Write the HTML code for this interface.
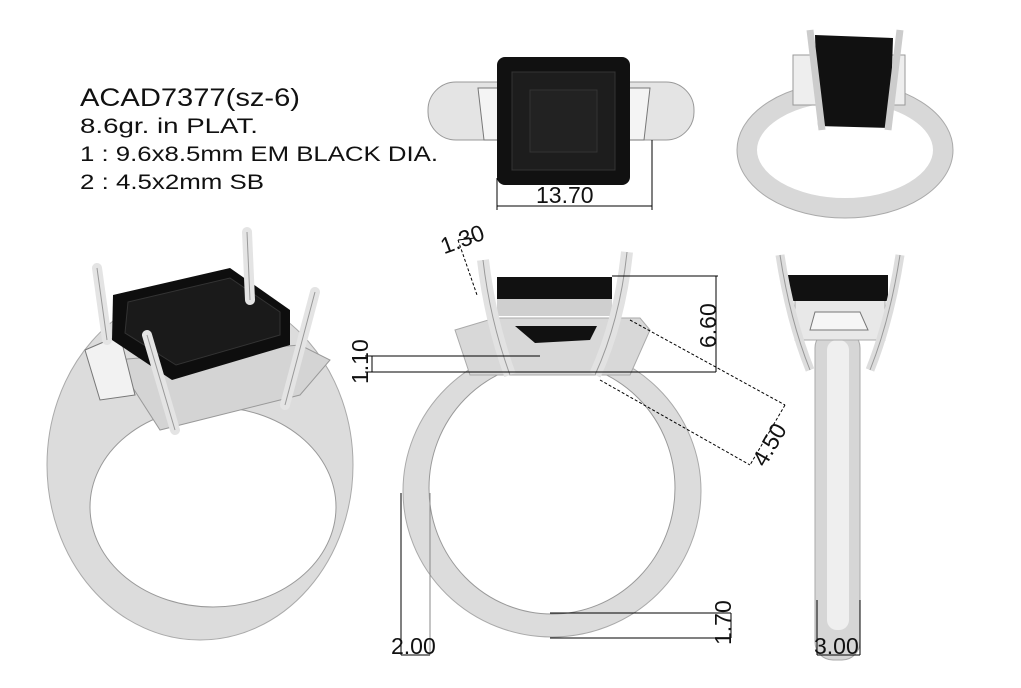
<!DOCTYPE html>
<html><head><style>
html,body{margin:0;padding:0;background:#fff;}
svg{display:block;}
text{font-family:"Liberation Sans",sans-serif;fill:#111;}
</style></head><body>
<svg width="1021" height="688" viewBox="0 0 1021 688" xmlns="http://www.w3.org/2000/svg">
<rect width="1021" height="688" fill="#fff"/>
<!-- text block -->
<text x="80" y="106" font-size="25" textLength="220" lengthAdjust="spacingAndGlyphs">ACAD7377(sz-6)</text>
<text x="80" y="133" font-size="21" textLength="178" lengthAdjust="spacingAndGlyphs">8.6gr.  in PLAT.</text>
<text x="80" y="161" font-size="21" textLength="358" lengthAdjust="spacingAndGlyphs">1 : 9.6x8.5mm EM BLACK DIA.</text>
<text x="80" y="189" font-size="21" textLength="184" lengthAdjust="spacingAndGlyphs">2 : 4.5x2mm SB</text>

<!-- top view -->
<rect x="428" y="82" width="266" height="58" rx="28" fill="#e4e4e4" stroke="#999"/>
<polygon points="478,88 500,88 500,140 484,140" fill="#f4f4f4" stroke="#777"/>
<polygon points="628,88 650,88 644,140 628,140" fill="#f4f4f4" stroke="#777"/>
<rect x="497" y="57" width="133" height="128" rx="8" fill="#111"/>
<rect x="512" y="72" width="103" height="98" fill="#1d1d1d" stroke="#333"/>
<rect x="530" y="90" width="67" height="62" fill="#222" stroke="#333"/>
<line x1="497" y1="178" x2="497" y2="210" stroke="#000"/>
<line x1="652" y1="140" x2="652" y2="210" stroke="#000"/>
<line x1="497" y1="206" x2="652" y2="206" stroke="#000"/>
<text x="536" y="203" font-size="23">13.70</text>

<!-- top right ring -->
<ellipse cx="845" cy="150" rx="98" ry="58" fill="none" stroke="#d8d8d8" stroke-width="20"/>
<ellipse cx="845" cy="150" rx="108" ry="68" fill="none" stroke="#aaa" stroke-width="1"/>
<rect x="793" y="55" width="25" height="50" fill="#eee" stroke="#999"/>
<rect x="880" y="55" width="25" height="50" fill="#eee" stroke="#999"/>
<polygon points="815,35 893,38 890,128 818,126" fill="#111"/>
<path d="M810,30 L822,130 M900,30 L888,130" stroke="#ccc" stroke-width="7"/>

<!-- left perspective ring -->
<ellipse cx="200" cy="465" rx="153" ry="175" fill="#dcdcdc" stroke="#aaa"/>
<ellipse cx="213" cy="507" rx="123" ry="100" fill="#fff" stroke="#999"/>
<polygon points="115,360 300,345 330,360 300,395 160,430" fill="#d4d4d4" stroke="#999"/>
<polygon points="85,350 120,335 135,395 100,400" fill="#f2f2f2" stroke="#777"/>
<polygon points="113,295 230,268 290,310 290,345 172,380 112,340" fill="#0e0e0e"/>
<polygon points="128,302 230,278 280,312 280,335 176,365 125,333" fill="#1a1a1a" stroke="#333"/>
<path d="M97,268 L107,340 M247,232 L250,300 M315,292 L285,405 M147,335 L175,430" stroke="#e4e4e4" stroke-width="10" stroke-linecap="round"/>
<path d="M97,268 L107,340 M247,232 L250,300 M315,292 L285,405 M147,335 L175,430" stroke="#999" stroke-width="1"/>

<!-- center front ring -->
<ellipse cx="552" cy="491" rx="149" ry="146" fill="#dcdcdc" stroke="#aaa"/>
<ellipse cx="552" cy="488" rx="123" ry="126" fill="#fff" stroke="#999"/>
<polygon points="455,330 495,318 640,318 650,330 630,375 470,375" fill="#d8d8d8" stroke="#aaa"/>
<rect x="497" y="277" width="115" height="22" fill="#111"/>
<rect x="497" y="299" width="115" height="17" fill="#cfcfcf"/>
<polygon points="515,326 597,326 590,340 535,343" fill="#111"/>
<path d="M483,260 Q490,320 510,375 M627,252 Q620,320 595,375" stroke="#e2e2e2" stroke-width="12" fill="none"/>
<path d="M483,260 Q490,320 510,375 M627,252 Q620,320 595,375" stroke="#999" stroke-width="1" fill="none"/>

<!-- right side view -->
<rect x="815" y="330" width="45" height="330" rx="18" fill="#d6d6d6" stroke="#aaa"/>
<rect x="827" y="340" width="22" height="290" rx="10" fill="#efefef"/>
<rect x="795" y="300" width="90" height="40" fill="#e8e8e8" stroke="#aaa"/>
<polygon points="815,312 860,312 868,330 810,330" fill="#f6f6f6" stroke="#777"/>
<rect x="788" y="275" width="100" height="26" fill="#111"/>
<path d="M780,255 Q790,320 810,370 M900,255 Q890,320 870,370" stroke="#ddd" stroke-width="9" fill="none"/>
<path d="M780,255 Q790,320 810,370 M900,255 Q890,320 870,370" stroke="#999" stroke-width="1" fill="none"/>

<!-- dims -->
<g stroke="#000" stroke-width="1" fill="none">
<line x1="612" y1="276" x2="718" y2="276"/>
<line x1="716" y1="276" x2="716" y2="372"/>
<line x1="365" y1="356" x2="540" y2="356"/>
<line x1="365" y1="372" x2="716" y2="372"/>
<line x1="372" y1="356" x2="372" y2="372"/>
<line x1="630" y1="320" x2="785" y2="405" stroke-dasharray="3,2"/>
<line x1="600" y1="380" x2="750" y2="465" stroke-dasharray="3,2"/>
<line x1="785" y1="405" x2="750" y2="465" stroke-dasharray="3,2"/>
<line x1="458" y1="240" x2="477" y2="295" stroke-dasharray="3,2"/>
<line x1="458" y1="240" x2="475" y2="238"/>
<line x1="401" y1="493" x2="401" y2="655"/>
<line x1="430" y1="493" x2="430" y2="655" stroke="#888"/>
<line x1="401" y1="655" x2="430" y2="655"/>
<line x1="550" y1="613" x2="731" y2="613"/>
<line x1="550" y1="638" x2="731" y2="638"/>
<line x1="731" y1="613" x2="731" y2="638"/>
<line x1="817" y1="600" x2="817" y2="655"/>
<line x1="860" y1="600" x2="860" y2="655"/>
<line x1="817" y1="655" x2="860" y2="655"/>
</g>
<text x="440" y="248" font-size="23" transform="rotate(-20 460 240)">1.30</text>
<text x="0" y="0" font-size="23" transform="translate(716,348) rotate(-90)">6.60</text>
<text x="0" y="0" font-size="23" transform="translate(368,384) rotate(-90)">1.10</text>
<text x="0" y="0" font-size="23" transform="translate(765,468) rotate(-60)">4.50</text>
<text x="0" y="0" font-size="23" transform="translate(731,645) rotate(-90)">1.70</text>
<text x="391" y="654" font-size="23">2.00</text>
<text x="814" y="654" font-size="23">3.00</text>
</svg>
</body></html>
